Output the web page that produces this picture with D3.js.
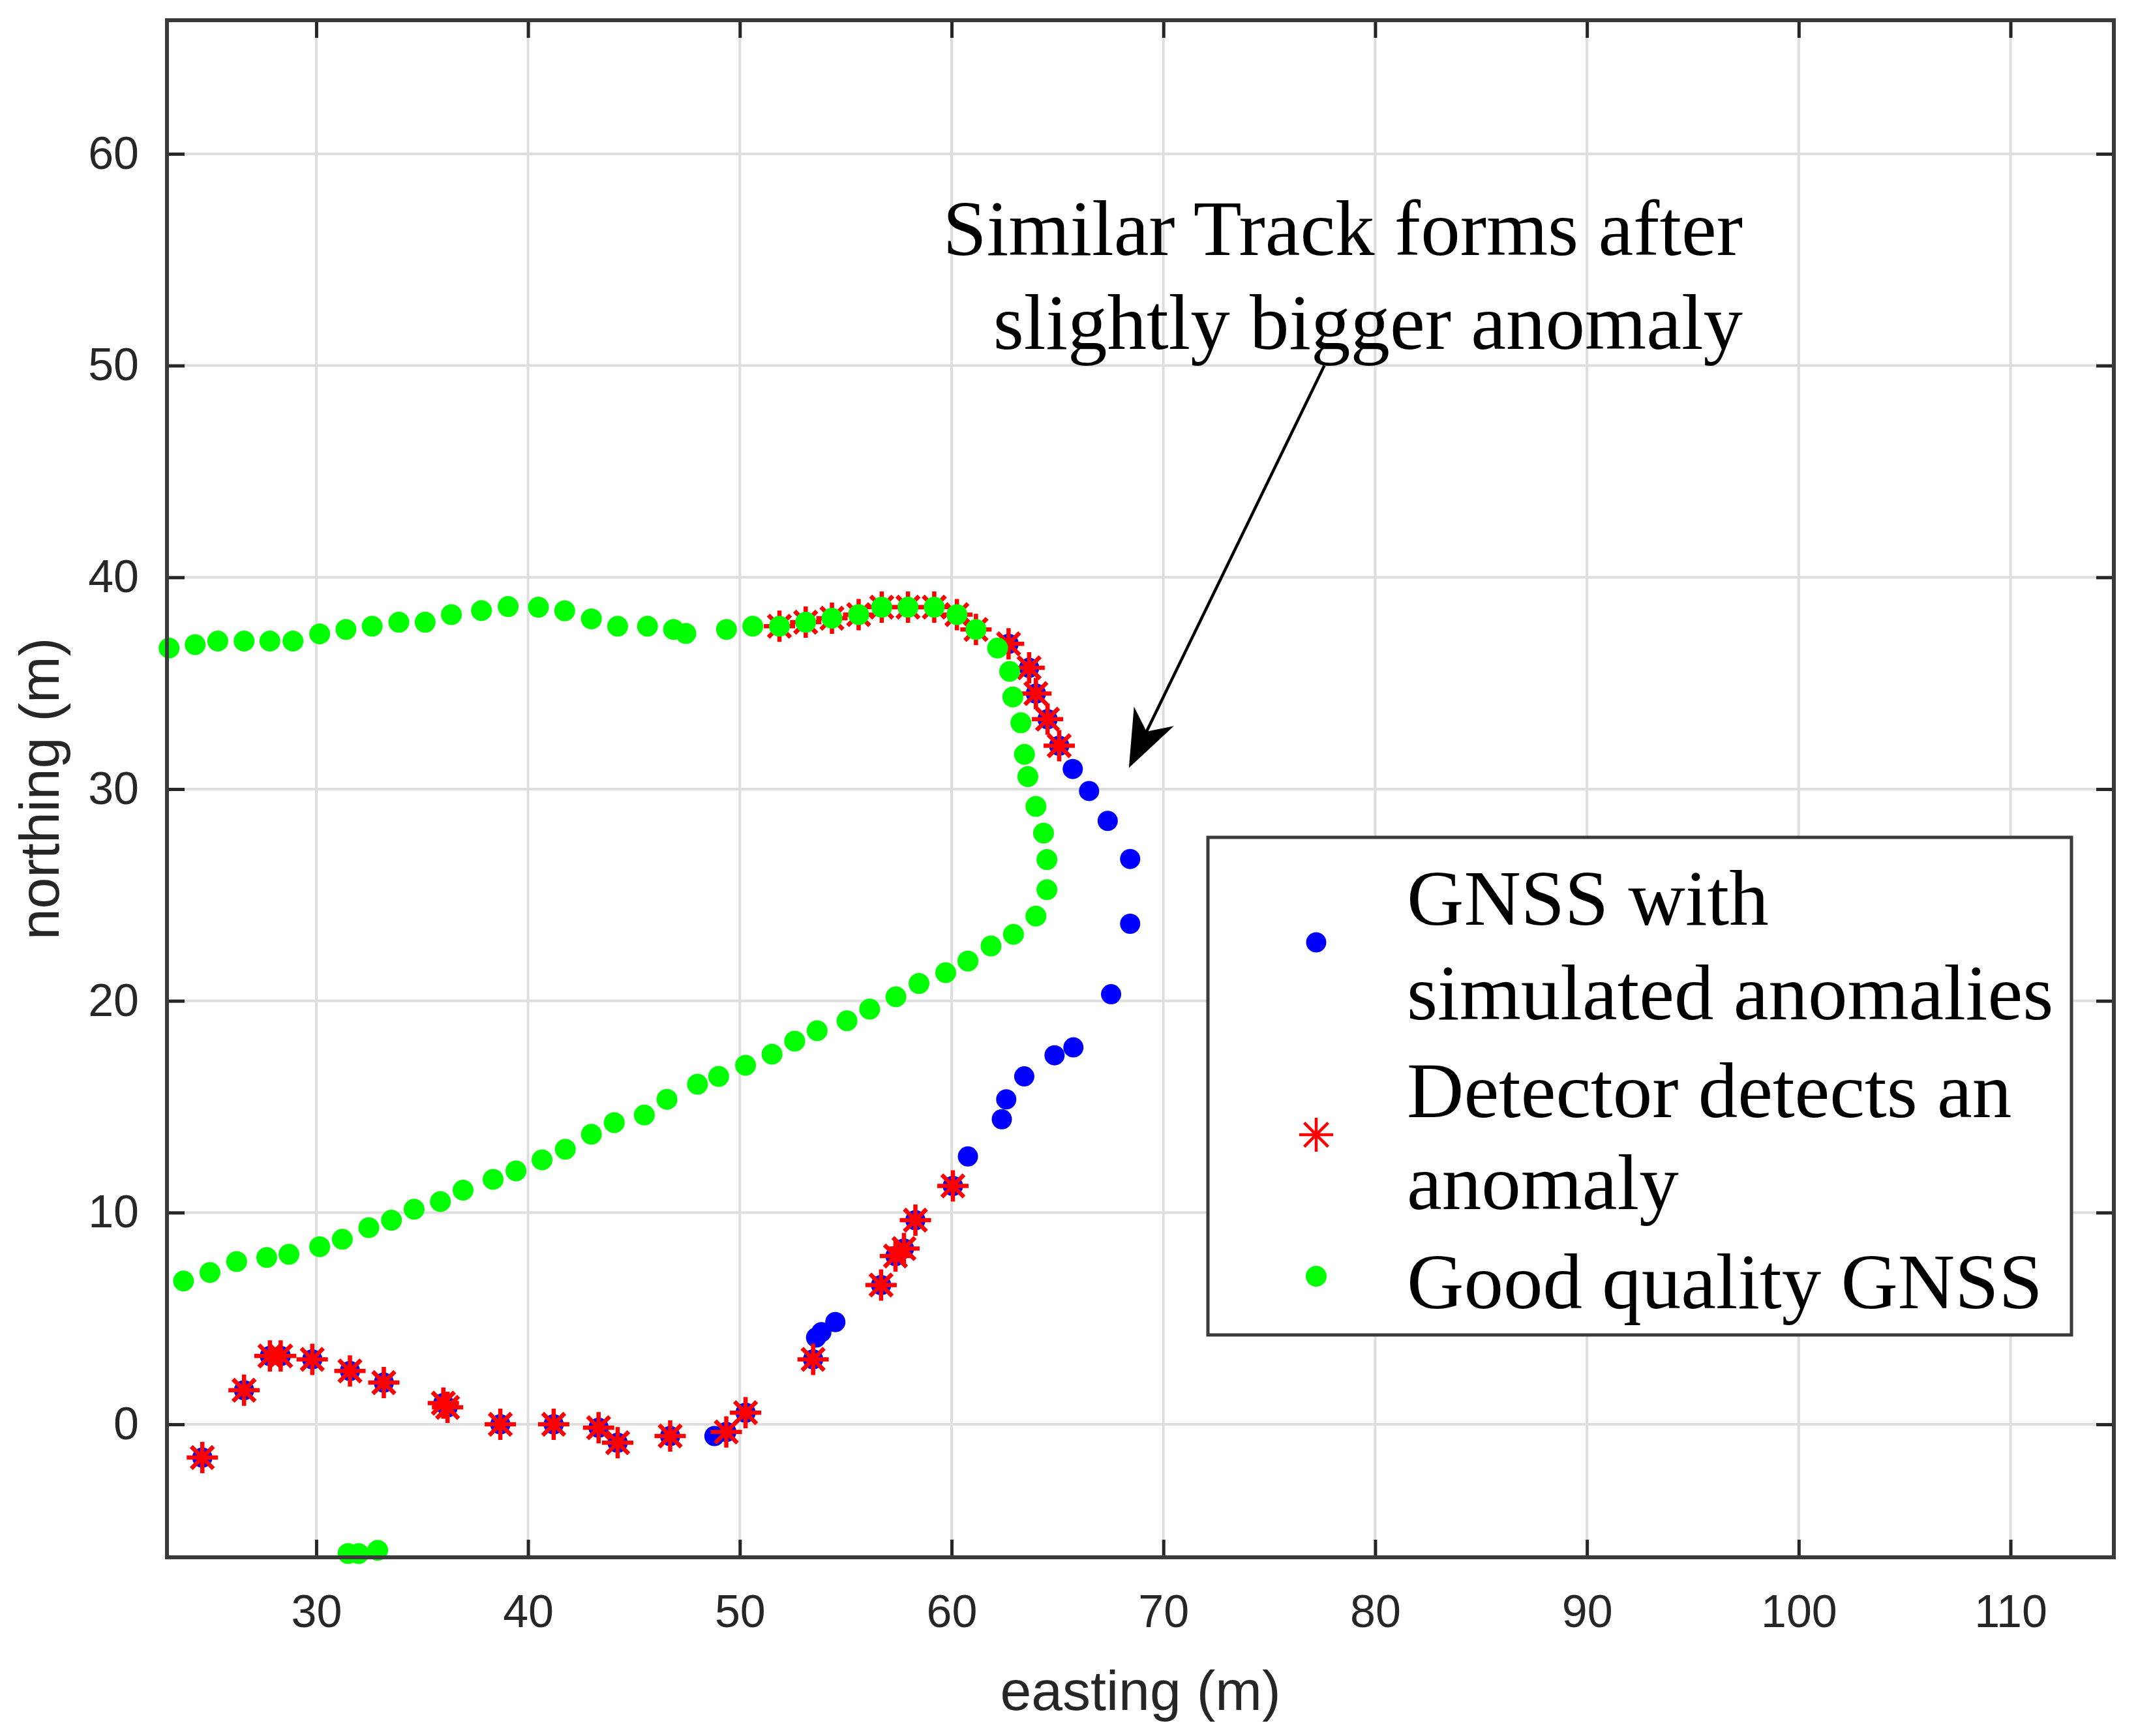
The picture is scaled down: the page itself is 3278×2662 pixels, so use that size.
<!DOCTYPE html>
<html>
<head>
<meta charset="utf-8">
<script src="https://cdn.jsdelivr.net/npm/d3@7"></script>
<style>
  html, body { margin: 0; padding: 0; background: #ffffff; }
  svg { display: block; }
</style>
</head>
<body>
<svg id="chart" width="3278" height="2662"></svg>
<script>
// ---------------- DATA ----------------
const xTicks = [30, 40, 50, 60, 70, 80, 90, 100, 110];
const yTicks = [0, 10, 20, 30, 40, 50, 60];
const xDomain = [22.95, 114.88];
const yDomain = [-6.28, 66.31];

// GNSS with simulated anomalies (blue)
const anomalyEast  = [24.62, 26.59, 27.81, 28.32, 29.81, 31.59, 33.19, 36.0, 36.2, 38.69, 41.21, 43.33, 44.23, 46.71, 48.8, 49.36, 50.27, 53.46, 53.6, 53.85, 54.51, 56.67, 57.35, 57.75, 58.29, 60.06, 60.77, 62.37, 62.58, 63.43, 64.86, 65.75, 67.53, 68.43, 68.43, 67.37, 66.49, 65.72, 65.08, 64.53, 63.98, 63.66, 62.69];
const anomalyNorth = [-1.57, 1.61, 3.23, 3.23, 3.07, 2.52, 1.97, 1.0, 0.8, 0.0, 0.0, -0.16, -0.87, -0.55, -0.55, -0.36, 0.55, 3.07, 4.1, 4.35, 4.83, 6.58, 7.95, 8.3, 9.64, 11.26, 12.65, 14.41, 15.35, 16.43, 17.43, 17.8, 20.31, 23.64, 26.70, 28.5, 29.91, 30.95, 32.05, 33.30, 34.51, 35.73, 36.86];

// Detector detects an anomaly (red asterisks)
const detectEast  = [24.62, 26.59, 27.81, 28.32, 29.81, 31.59, 33.19, 36.0, 36.2, 38.69, 41.21, 43.33, 44.23, 46.71, 49.36, 50.27, 53.46, 56.67, 57.35, 57.75, 58.29, 60.06,
                     51.87, 53.11, 54.35, 55.61, 56.70, 57.94, 59.18, 60.25, 61.15, 62.69, 63.66, 63.98, 64.53, 65.08];
const detectNorth = [-1.57, 1.61, 3.23, 3.23, 3.07, 2.52, 1.97, 1.0, 0.8, 0.0, 0.0, -0.16, -0.87, -0.55, -0.36, 0.55, 3.07, 6.58, 7.95, 8.3, 9.64, 11.26,
                     37.69, 37.88, 38.07, 38.24, 38.59, 38.59, 38.59, 38.24, 37.54, 36.86, 35.73, 34.51, 33.30, 32.05];

// Good quality GNSS (green)
const goodEast  = [23.05, 24.28, 25.35, 26.59, 27.81, 28.9, 30.16, 31.4, 32.64, 33.9, 35.14, 36.38, 37.8, 39.06, 40.49, 41.73, 42.99, 44.23, 45.64, 46.87, 47.45,
                   49.37, 50.61, 51.87, 53.11, 54.35, 55.61, 56.70, 57.94, 59.18, 60.25, 61.15, 62.17, 62.74, 62.89, 63.27, 63.44, 63.6, 63.98, 64.34, 64.5, 64.5,
                   63.98, 62.92, 61.86, 60.77, 59.72, 58.46, 57.37, 56.13, 55.06, 53.65, 52.59, 51.52, 50.27, 49.0, 48.0, 46.56, 45.49, 44.07, 42.99, 41.76, 40.66,
                   39.43, 38.35, 36.93, 35.86, 34.62, 33.55, 32.48, 31.23, 30.16, 28.71, 27.66, 26.24, 24.98, 23.73,
                   31.5, 32.0, 32.9];
const goodNorth = [36.66, 36.82, 36.99, 36.99, 36.99, 36.99, 37.33, 37.54, 37.69, 37.88, 37.88, 38.24, 38.43, 38.62, 38.59, 38.42, 38.04, 37.69, 37.69, 37.54, 37.35,
                   37.54, 37.69, 37.69, 37.88, 38.07, 38.24, 38.59, 38.59, 38.59, 38.24, 37.54, 36.66, 35.56, 34.35, 33.13, 31.64, 30.59, 29.18, 27.92, 26.67, 25.25,
                   24.0, 23.14, 22.59, 21.88, 21.33, 20.82, 20.19, 19.61, 19.06, 18.59, 18.1, 17.48, 16.96, 16.43, 16.06, 15.35, 14.61, 14.25, 13.70, 12.99, 12.49,
                   11.97, 11.57, 11.06, 10.52, 10.16, 9.64, 9.29, 8.74, 8.39, 8.03, 7.88, 7.69, 7.17, 6.77,
                   -6.1, -6.1, -5.95];

const legendLabels = [["GNSS with", "simulated anomalies"], ["Detector detects an", "anomaly"], ["Good quality GNSS"]];
const annotationLines = ["Similar Track forms after", "slightly bigger anomaly"];
const arrowFrom = [77.6, 50.0];
const arrowTo = [68.37, 31.0];

// ---------------- LAYOUT ----------------
const L = 256, R = 3241, T = 31, B = 2388;
const svg = d3.select("#chart");
const x = d3.scaleLinear().domain(xDomain).range([L, R]);
const y = d3.scaleLinear().domain(yDomain).range([B, T]);
const axisColor = "#262626";
const tickFont = "'Liberation Sans', Arial, Helvetica, sans-serif";
const serif = "'Liberation Serif', 'Times New Roman', serif";

svg.append("rect").attr("width", 3278).attr("height", 2662).attr("fill", "#ffffff");
svg.append("rect").attr("x", L).attr("y", T).attr("width", R - L).attr("height", B - T).attr("fill", "#ffffff");

// grid
const grid = svg.append("g").attr("stroke", "#dedede").attr("stroke-width", 4);
grid.selectAll("line.gx").data(xTicks).join("line")
  .attr("x1", d => x(d)).attr("x2", d => x(d)).attr("y1", T).attr("y2", B);
grid.selectAll("line.gy").data(yTicks).join("line")
  .attr("x1", L).attr("x2", R).attr("y1", d => y(d)).attr("y2", d => y(d));

// markers
const blue = anomalyEast.map((e, i) => [e, anomalyNorth[i]]);
const red = detectEast.map((e, i) => [e, detectNorth[i]]);
const green = goodEast.map((e, i) => [e, goodNorth[i]]);

function asterisk(g, r) {
  const a = r * Math.SQRT1_2;
  return `M${-r},0L${r},0M0,${-r}L0,${r}M${-a},${-a}L${a},${a}M${-a},${a}L${a},${-a}`;
}

svg.append("g").selectAll("circle").data(blue).join("circle")
  .attr("cx", d => x(d[0])).attr("cy", d => y(d[1])).attr("r", 15.5).attr("fill", "#0000ff");

svg.append("g").selectAll("path").data(red).join("path")
  .attr("transform", d => `translate(${x(d[0])},${y(d[1])})`)
  .attr("d", asterisk(null, 24)).attr("stroke", "#ff0000").attr("stroke-width", 6.5).attr("fill", "none");

svg.append("g").selectAll("circle").data(green).join("circle")
  .attr("cx", d => x(d[0])).attr("cy", d => y(d[1])).attr("r", 16).attr("fill", "#00ff00");

// axes
const tickLen = 27;
const gx = svg.append("g").attr("transform", `translate(0,${B})`)
  .call(d3.axisBottom(x).tickValues(xTicks).tickSizeInner(-tickLen).tickSizeOuter(0).tickPadding(57));
const gy = svg.append("g").attr("transform", `translate(${L},0)`)
  .call(d3.axisLeft(y).tickValues(yTicks).tickSizeInner(-tickLen).tickSizeOuter(0).tickPadding(43));
const gxt = svg.append("g").attr("transform", `translate(0,${T})`)
  .call(d3.axisTop(x).tickValues(xTicks).tickSizeInner(-tickLen).tickSizeOuter(0).tickFormat(""));
const gyr = svg.append("g").attr("transform", `translate(${R},0)`)
  .call(d3.axisRight(y).tickValues(yTicks).tickSizeInner(-tickLen).tickSizeOuter(0).tickFormat(""));
[gx, gy, gxt, gyr].forEach(g => {
  g.select(".domain").remove();
  g.selectAll(".tick line").attr("stroke", axisColor).attr("stroke-width", 5);
  g.selectAll(".tick text").attr("fill", axisColor).attr("font-family", tickFont).attr("font-size", 70);
});
svg.append("rect").attr("x", L).attr("y", T).attr("width", R - L).attr("height", B - T)
  .attr("fill", "none").attr("stroke", "#3a3a3a").attr("stroke-width", 6);

// axis labels
svg.append("text").attr("x", (L + R) / 2).attr("y", 2622).attr("text-anchor", "middle")
  .attr("font-family", tickFont).attr("font-size", 86).attr("fill", axisColor).text("easting (m)");
svg.append("text").attr("transform", `translate(90,${(T + B) / 2}) rotate(-90)`).attr("text-anchor", "middle")
  .attr("font-family", tickFont).attr("font-size", 86).attr("fill", axisColor).text("northing (m)");

// annotation arrow
const x0 = x(arrowFrom[0]), y0 = y(arrowFrom[1]), x1 = x(arrowTo[0]), y1 = y(arrowTo[1]);
const ang = Math.atan2(y1 - y0, x1 - x0) * 180 / Math.PI;
const headLen = 88, headHalf = 34, notch = 26;
svg.append("line").attr("x1", x0).attr("y1", y0)
  .attr("x2", x1 - (headLen - notch) * Math.cos(ang * Math.PI / 180))
  .attr("y2", y1 - (headLen - notch) * Math.sin(ang * Math.PI / 180))
  .attr("stroke", "#000").attr("stroke-width", 4.5);
svg.append("path").attr("transform", `translate(${x1},${y1}) rotate(${ang})`)
  .attr("d", `M0,0L${-headLen},${-headHalf}L${-headLen + notch},0L${-headLen},${headHalf}Z`)
  .attr("fill", "#000");

// annotation text
const ann = svg.append("g").attr("font-family", serif).attr("font-size", 121).attr("fill", "#000").attr("text-anchor", "end");
ann.selectAll("text").data(annotationLines).join("text")
  .attr("x", 2672).attr("y", (d, i) => 391 + i * 144).text(d => d);

// legend
const lg = svg.append("g");
lg.append("rect").attr("x", 1852).attr("y", 1284).attr("width", 3176 - 1852).attr("height", 2047 - 1284)
  .attr("fill", "#ffffff").attr("stroke", "#3a3a3a").attr("stroke-width", 5);
const baselines = [[1418, 1563], [1713, 1854], [2006]];
const markerY = [1445, 1740, 1957];
legendLabels.forEach((lines, i) => {
  lines.forEach((t, j) => {
    lg.append("text").attr("x", 2157).attr("y", baselines[i][j]).attr("font-family", serif)
      .attr("font-size", 121).attr("fill", "#000").text(t);
  });
});
lg.append("circle").attr("cx", 2018).attr("cy", markerY[0]).attr("r", 15.5).attr("fill", "#0000ff");
lg.append("path").attr("transform", `translate(2018,${markerY[1]})`).attr("d", asterisk(null, 26))
  .attr("stroke", "#ff0000").attr("stroke-width", 4.5).attr("fill", "none");
lg.append("circle").attr("cx", 2018).attr("cy", markerY[2]).attr("r", 16).attr("fill", "#00ff00");
</script>
</body>
</html>
